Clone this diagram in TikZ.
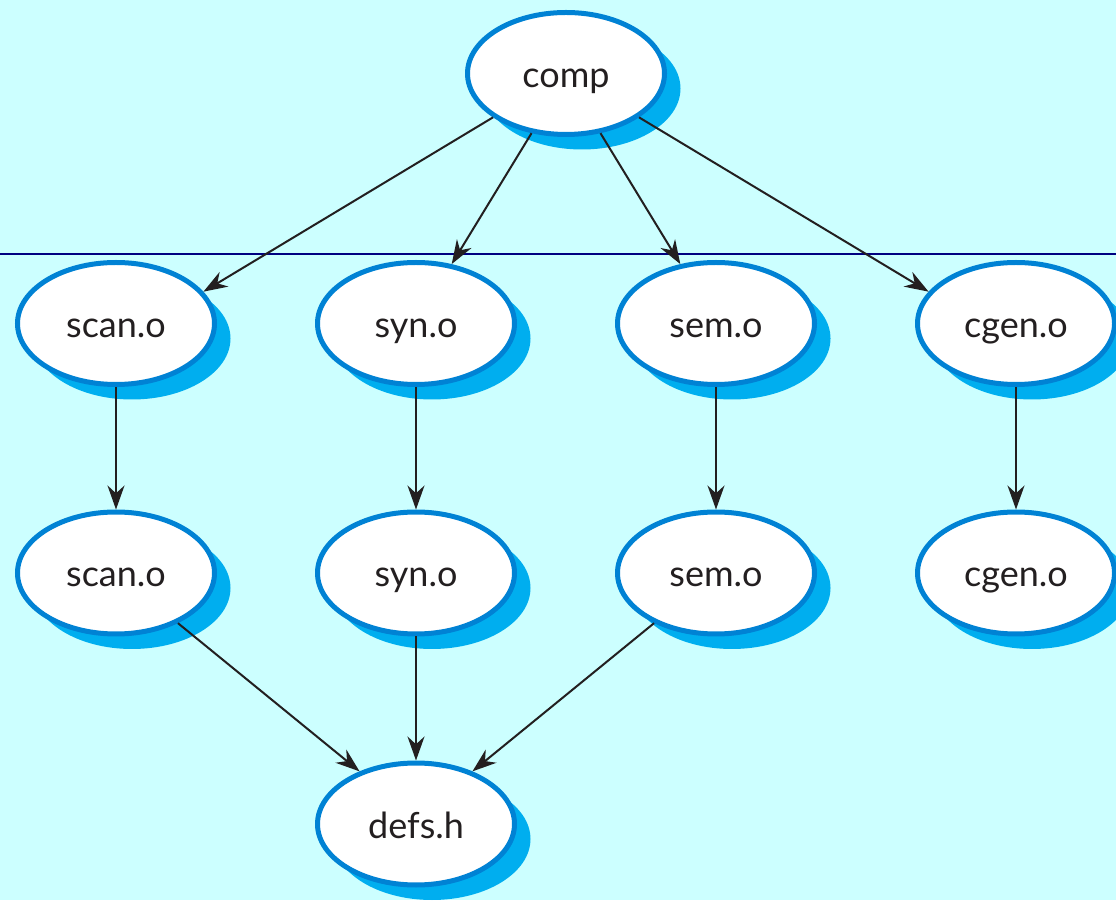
\documentclass[tikz,border=0pt]{standalone}
\usepackage{fontspec}
\setmainfont{Lato}
\usetikzlibrary{shapes.geometric,shadows,arrows.meta}
\definecolor{bg}{HTML}{CCFFFF}
\definecolor{bordblue}{HTML}{0082D4}
\definecolor{shadblue}{HTML}{00AEEF}
\definecolor{txt}{HTML}{231F20}
\definecolor{navy}{HTML}{000080}
\begin{document}
\begin{tikzpicture}[x=1pt,y=1pt,
  ell/.style={ellipse, draw=bordblue, line width=5pt, fill=white,
    minimum width=197pt, minimum height=122pt, inner sep=0pt, outer sep=2.5pt,
    text height=30pt, text depth=2pt,
    font=\fontsize{36}{42}\selectfont, text=txt,
    drop shadow={shadow xshift=16pt, shadow yshift=-15pt, fill=shadblue, opacity=1}},
  arr/.style={draw=txt, line width=2pt, -{Stealth[length=24pt,width=17pt]}}]
\useasboundingbox (0,0) rectangle (1116,900);
\fill[bg] (0,0) rectangle (1116,900);
\coordinate (L) at (0,646);
\coordinate (R) at (1116,646);
\draw[navy, line width=1.2pt] (L) -- (R);

\node[ell] (comp) at (566,826.5) {comp};
\node[ell] (scan1) at (116,576.5) {scan.o};
\node[ell] (syn1) at (416,576.5) {syn.o};
\node[ell] (sem1) at (716,576.5) {sem.o};
\node[ell] (cgen1) at (1016,576.5) {cgen.o};
\node[ell] (scan2) at (116,327) {scan.o};
\node[ell] (syn2) at (416,327) {syn.o};
\node[ell] (sem2) at (716,327) {sem.o};
\node[ell] (cgen2) at (1016,327) {cgen.o};
\node[ell] (defs) at (416,76) {defs.h};

\draw[arr] (comp.211) -- (scan1.20);
\draw[arr] (comp.240) -- (syn1.59);
\draw[arr] (comp.300) -- (sem1.121);
\draw[arr] (comp.329) -- (cgen1.160);
\draw[arr] (scan1.south) -- (scan2.north);
\draw[arr] (syn1.south) -- (syn2.north);
\draw[arr] (sem1.south) -- (sem2.north);
\draw[arr] (cgen1.south) -- (cgen2.north);
\draw[arr] (scan2.-39) -- (defs.137);
\draw[arr] (syn2.south) -- (defs.north);
\draw[arr] (sem2.219) -- (defs.43);
\end{tikzpicture}
\end{document}
